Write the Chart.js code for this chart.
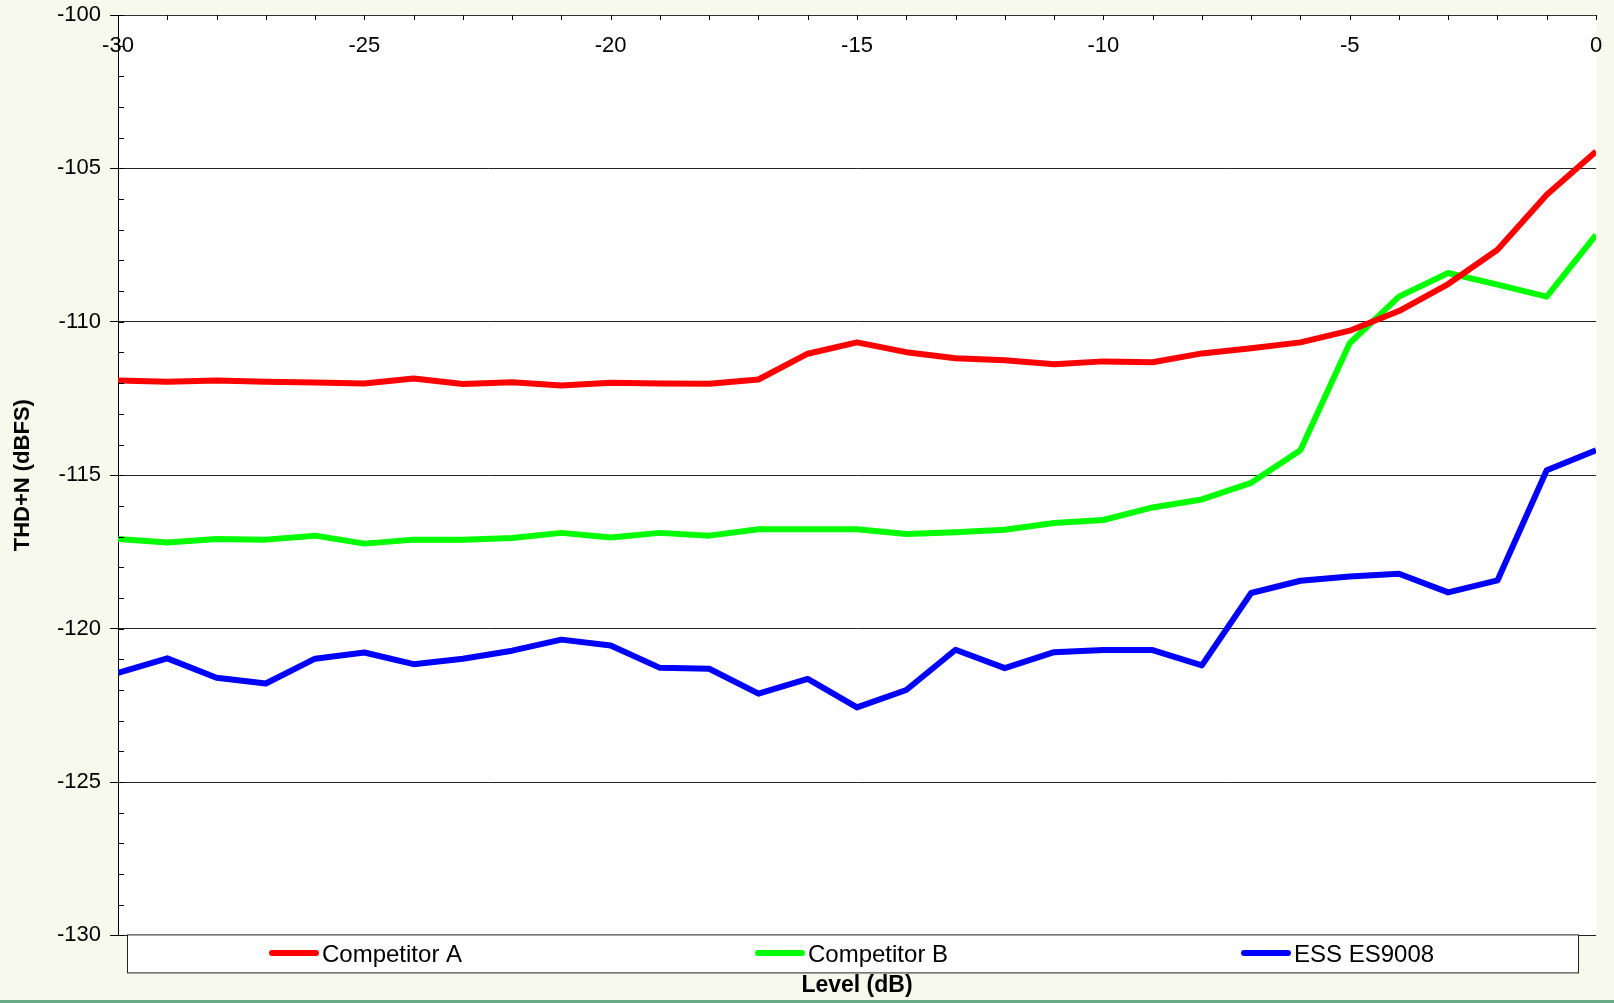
<!DOCTYPE html>
<html>
<head>
<meta charset="utf-8">
<title>THD+N vs Level</title>
<script src="https://cdn.jsdelivr.net/npm/chart.js@4.4.0/dist/chart.umd.min.js"></script>
<style>
  html, body { margin: 0; padding: 0; background: #f7f9ec; overflow: hidden; }
  #wrap { width: 1614px; height: 1000px; border-bottom: 3px solid #6aa986; }
</style>
</head>
<body>
<div id="wrap"><canvas id="myChart" width="1614" height="1000"></canvas></div>
<script>
// level (dB) on x axis
var levels = [-30, -29, -28, -27, -26, -25, -24, -23, -22, -21, -20, -19, -18, -17, -16, -15,
              -14, -13, -12, -11, -10, -9, -8, -7, -6, -5, -4, -3, -2, -1, 0];

// THD+N (dBFS)
var competitorA = [-111.91, -111.95, -111.91, -111.95, -111.98, -112.01, -111.85, -112.03, -111.97, -112.08, -111.99,
                   -112.01, -112.02, -111.88, -111.04, -110.67, -110.99, -111.19, -111.25, -111.38, -111.29,
                   -111.32, -111.03, -110.86, -110.67, -110.29, -109.65, -108.77, -107.65, -105.86, -104.45];
var competitorB = [-117.08, -117.19, -117.08, -117.10, -116.97, -117.23, -117.10, -117.10, -117.05, -116.88, -117.03,
                   -116.88, -116.97, -116.76, -116.76, -116.76, -116.92, -116.86, -116.78, -116.56, -116.46,
                   -116.05, -115.79, -115.25, -114.19, -110.70, -109.18, -108.41, -108.79, -109.18, -107.17];
var essES9008 = [-121.44, -120.97, -121.60, -121.79, -120.98, -120.78, -121.16, -120.98, -120.72, -120.36, -120.55,
                 -121.28, -121.31, -122.12, -121.64, -122.57, -122.00, -120.69, -121.29, -120.77, -120.70,
                 -120.70, -121.20, -118.84, -118.44, -118.30, -118.21, -118.82, -118.43, -114.84, -114.19];

var xTickLabels = [-30, -25, -20, -15, -10, -5, 0];
var seriesNames = ["Competitor A", "Competitor B", "ESS ES9008"];

function toPoints(arr) {
  var pts = [];
  for (var i = 0; i < levels.length; ++i) {
    pts.push({ x: levels[i], y: arr[i] });
  }
  return pts;
}

Chart.defaults.font.family = '"Liberation Sans", Arial, sans-serif';
Chart.defaults.color = '#000';

// white plot area
var plotBg = {
  id: 'plotBg',
  beforeDraw: function(chart) {
    var a = chart.chartArea, ctx = chart.ctx;
    ctx.save();
    ctx.fillStyle = '#ffffff';
    ctx.fillRect(a.left, a.top, a.right - a.left, a.bottom - a.top);
    ctx.restore();
  }
};

// minor tick marks (inside) and the x labels under the top axis
var axisExtras = {
  id: 'axisExtras',
  afterDraw: function(chart) {
    var ctx = chart.ctx, a = chart.chartArea;
    var xs = chart.scales.x, ys = chart.scales.y;
    ctx.save();
    ctx.strokeStyle = '#000';
    ctx.lineWidth = 1;
    ctx.beginPath();
    for (var v = ys.min; v <= ys.max; v++) {
      var py = Math.round(ys.getPixelForValue(v)) + 0.5;
      ctx.moveTo(a.left, py);
      ctx.lineTo(a.left + 6, py);
    }
    for (var u = xs.min; u <= xs.max; u++) {
      var px = Math.round(xs.getPixelForValue(u)) + 0.5;
      ctx.moveTo(px, a.top);
      ctx.lineTo(px, a.top + 5);
    }
    ctx.stroke();

    ctx.fillStyle = '#000';
    ctx.font = '22px "Liberation Sans", Arial, sans-serif';
    ctx.textAlign = 'center';
    ctx.textBaseline = 'middle';
    for (var k = 0; k < xTickLabels.length; k++) {
      ctx.fillText(String(xTickLabels[k]), xs.getPixelForValue(xTickLabels[k]), a.top + 31);
    }
    ctx.restore();
  }
};

// boxed legend sitting on the bottom of the plot
var boxLegend = {
  id: 'boxLegend',
  afterDraw: function(chart) {
    var ctx = chart.ctx, a = chart.chartArea;
    var left = a.left + 9, right = a.right - 18, top = a.bottom - 0.5, h = 38;
    ctx.save();
    ctx.fillStyle = '#ffffff';
    ctx.fillRect(left, top, right - left, h);
    ctx.strokeStyle = '#222';
    ctx.lineWidth = 1;
    ctx.strokeRect(left + 0.5, top, right - left, h);
    var ds = chart.data.datasets;
    ctx.font = '24px "Liberation Sans", Arial, sans-serif';
    ctx.textAlign = 'left';
    ctx.textBaseline = 'middle';
    for (var i = 0; i < ds.length; i++) {
      var x0 = left + 145 + i * 486;
      var yc = top + 18;
      ctx.strokeStyle = ds[i].borderColor;
      ctx.lineWidth = 6;
      ctx.lineCap = 'round';
      ctx.beginPath();
      ctx.moveTo(x0, yc);
      ctx.lineTo(x0 + 44, yc);
      ctx.stroke();
      ctx.fillStyle = '#000';
      ctx.fillText(ds[i].label, x0 + 50, yc + 2);
    }
    ctx.restore();
  }
};

function drawChart() {
  var ctx = document.getElementById("myChart").getContext("2d");
  var lineStyle = { borderWidth: 6, pointRadius: 0, tension: 0, borderJoinStyle: 'round', fill: false };
  var myChart = new Chart(ctx, {
    type: 'line',
    data: {
      datasets: [
        Object.assign({ label: seriesNames[0], data: toPoints(competitorA), borderColor: '#ff0000', backgroundColor: '#ff0000' }, lineStyle),
        Object.assign({ label: seriesNames[1], data: toPoints(competitorB), borderColor: '#00ff00', backgroundColor: '#00ff00' }, lineStyle),
        Object.assign({ label: seriesNames[2], data: toPoints(essES9008), borderColor: '#0000ff', backgroundColor: '#0000ff' }, lineStyle)
      ]
    },
    options: {
      responsive: false,
      animation: false,
      layout: { padding: { top: 15, right: 18, left: 0, bottom: 0 } },
      plugins: {
        legend: { display: false },
        tooltip: { enabled: false }
      },
      scales: {
        x: {
          type: 'linear',
          position: 'top',
          min: -30,
          max: 0,
          ticks: { display: false },
          grid: { display: false, drawTicks: false },
          border: { display: true, color: '#333', width: 1 }
        },
        xb: {
          type: 'linear',
          position: 'bottom',
          display: true,
          min: -30,
          max: 0,
          ticks: { display: false },
          grid: { display: false, drawTicks: false },
          border: { display: false },
          title: {
            display: true,
            text: 'Level (dB)',
            font: { size: 23, weight: 'bold' },
            padding: { top: 36, bottom: 1 }
          }
        },
        y: {
          min: -130,
          max: -100,
          ticks: { stepSize: 5, padding: 9, font: { size: 22 } },
          grid: { color: '#222', lineWidth: 1, tickColor: '#000', tickLength: 8 },
          border: { display: true, color: '#000', width: 1 },
          title: {
            display: true,
            text: 'THD+N (dBFS)',
            font: { size: 22, weight: 'bold' },
            padding: { top: 10, bottom: 0 }
          },
          afterFit: function(scale) {
            scale.width = 118;
            scale.paddingTop = 0;
            scale.paddingBottom = 0;
          }
        }
      }
    },
    plugins: [plotBg, axisExtras, boxLegend]
  });
}

drawChart();
</script>
</body>
</html>
